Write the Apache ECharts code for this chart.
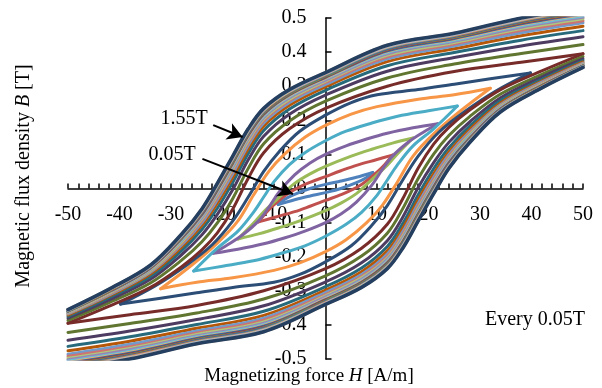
<!DOCTYPE html>
<html><head><meta charset="utf-8">
<script src="https://cdn.jsdelivr.net/npm/echarts@6/dist/echarts.min.js"></script>
<style>html,body{margin:0;padding:0;background:#fff}#c{width:602px;height:388px}</style>
</head><body><div id="c"></div>
<script>
// Excel-style series colours, loop 1 (0.05T) ... loop 31 (1.55T)
const COLORS = ['#4F81BD','#C0504D','#9BBB59','#8064A2','#4BACC6','#F79646',
  '#2C4D75','#772C2A','#5F7530','#4D3B62','#276A7C','#B65708',
  '#729ACA','#CD7371','#AFC97A','#9983B5','#6FBDD1','#F9AB6B',
  '#3A679C','#9F3B38','#7E9D40','#664F83','#358EA6','#E07A1F',
  '#95B3D7','#D99694','#C3D69B','#B2A1C7','#93CDDD','#FAC090','#243F60'];

const X_TICKS = [-50,-40,-30,-20,-10,0,10,20,30,40,50];
const Y_TICKS = [-0.5,-0.4,-0.3,-0.2,-0.1,0,0.1,0.2,0.3,0.4,0.5];

// Descending (upper) branches of small loops, [H, B] from right tip to left tip
const L01 = [[9.2,0.047],[6,0.033],[3,0.022],[0,0.012],[-3,0.0],[-6,-0.017],[-8,-0.032],[-9.2,-0.047]];
const L02 = [[13,0.098],[10,0.085],[6,0.068],[3,0.052],[0,0.035],[-3,0.018],[-5,0.005],[-7,-0.012],[-9,-0.035],[-11,-0.062],[-13,-0.098]];
const L03 = [[17,0.148],[13,0.133],[9,0.115],[5,0.095],[0,0.065],[-3,0.043],[-6,0.015],[-8,-0.012],[-10,-0.04],[-12,-0.068],[-14,-0.102],[-17,-0.148]];
const L04 = [[21.8,0.19],[17,0.178],[12,0.162],[8,0.145],[4,0.125],[0,0.1],[-3,0.075],[-6,0.04],[-9,-0.01],[-11,-0.055],[-13,-0.095],[-16,-0.135],[-19,-0.165],[-21.8,-0.19]];
const L05 = [[25.6,0.242],[20,0.228],[14,0.212],[9,0.192],[4,0.168],[0,0.14],[-4,0.105],[-7,0.07],[-10,0.02],[-12,-0.025],[-14,-0.07],[-17,-0.125],[-21,-0.175],[-25.6,-0.242]];
const L06 = [[32,0.294],[25,0.275],[18,0.262],[10,0.24],[5,0.218],[0,0.185],[-4,0.15],[-8,0.1],[-11,0.05],[-14,-0.02],[-17,-0.095],[-21,-0.16],[-26,-0.225],[-32,-0.294]];
const L07 = [[39.8,0.339],[32,0.322],[25,0.306],[18,0.29],[10,0.275],[5,0.252],[0,0.215],[-5,0.168],[-9,0.108],[-12,0.05],[-15,-0.025],[-18,-0.095],[-22,-0.165],[-27,-0.225],[-33,-0.285],[-39.8,-0.339]];

// Larger loops: descending branch B read at these H values
const H_BIG = [50, 38, 25, 12, 0, -7, -12, -15, -18, -21, -24, -28, -34, -42, -50];
const B08 = [0.395,0.370,0.343,0.300,0.235,0.175,0.105,0.030,-0.060,-0.130,-0.180,-0.230,-0.290,-0.345,-0.395];
const B09 = [0.422,0.396,0.365,0.324,0.256,0.198,0.131,0.059,-0.029,-0.101,-0.156,-0.211,-0.277,-0.335,-0.387];
const B10 = [0.445,0.418,0.384,0.344,0.274,0.218,0.153,0.084,-0.003,-0.076,-0.136,-0.195,-0.266,-0.327,-0.380];
const B11 = [0.463,0.435,0.399,0.360,0.288,0.233,0.170,0.103,0.018,-0.058,-0.120,-0.183,-0.258,-0.320,-0.375];
const B12 = [0.476,0.448,0.410,0.372,0.298,0.244,0.183,0.117,0.033,-0.043,-0.108,-0.173,-0.251,-0.315,-0.371];
const B13 = [0.486,0.457,0.418,0.380,0.305,0.252,0.192,0.127,0.044,-0.033,-0.100,-0.166,-0.246,-0.312,-0.368];
const B14 = [0.492,0.464,0.424,0.386,0.311,0.258,0.199,0.134,0.052,-0.026,-0.094,-0.162,-0.243,-0.309,-0.366];
const B15 = [0.498,0.469,0.428,0.391,0.315,0.262,0.204,0.140,0.058,-0.020,-0.089,-0.158,-0.241,-0.307,-0.365];
const B16 = [0.502,0.473,0.432,0.395,0.318,0.266,0.208,0.145,0.063,-0.015,-0.085,-0.154,-0.238,-0.305,-0.363];
const B17 = [0.506,0.477,0.435,0.399,0.322,0.270,0.212,0.150,0.068,-0.010,-0.081,-0.152,-0.236,-0.304,-0.362];
const B18 = [0.510,0.481,0.438,0.402,0.324,0.273,0.216,0.153,0.072,-0.007,-0.078,-0.149,-0.235,-0.303,-0.361];
const B19 = [0.512,0.483,0.440,0.404,0.326,0.275,0.218,0.156,0.075,-0.004,-0.076,-0.147,-0.233,-0.302,-0.360];
const B20 = [0.515,0.486,0.443,0.407,0.328,0.277,0.221,0.159,0.078,-0.001,-0.073,-0.145,-0.232,-0.301,-0.359];
const B21 = [0.517,0.488,0.444,0.409,0.330,0.279,0.223,0.161,0.080,0.001,-0.071,-0.144,-0.231,-0.300,-0.359];
const B22 = [0.519,0.490,0.446,0.410,0.332,0.281,0.225,0.163,0.083,0.003,-0.070,-0.143,-0.230,-0.299,-0.358];
const B23 = [0.521,0.492,0.448,0.412,0.333,0.283,0.227,0.166,0.085,0.006,-0.068,-0.141,-0.229,-0.298,-0.358];
const B24 = [0.523,0.493,0.449,0.414,0.335,0.284,0.228,0.168,0.087,0.008,-0.066,-0.140,-0.228,-0.298,-0.357];
const B25 = [0.525,0.495,0.451,0.415,0.336,0.285,0.230,0.169,0.089,0.009,-0.065,-0.139,-0.228,-0.297,-0.357];
const B26 = [0.526,0.496,0.452,0.416,0.337,0.287,0.231,0.171,0.090,0.011,-0.064,-0.138,-0.227,-0.297,-0.356];
const B27 = [0.527,0.497,0.453,0.417,0.338,0.287,0.232,0.172,0.092,0.012,-0.063,-0.137,-0.226,-0.296,-0.356];
const B28 = [0.528,0.498,0.453,0.418,0.338,0.288,0.233,0.173,0.093,0.013,-0.062,-0.136,-0.226,-0.296,-0.356];
const B29 = [0.529,0.499,0.454,0.419,0.339,0.289,0.234,0.174,0.094,0.014,-0.061,-0.136,-0.225,-0.295,-0.355];
const B30 = [0.529,0.499,0.455,0.420,0.340,0.290,0.234,0.174,0.094,0.014,-0.060,-0.135,-0.225,-0.295,-0.355];
const B31 = [0.530,0.500,0.455,0.420,0.340,0.290,0.235,0.175,0.095,0.015,-0.060,-0.135,-0.225,-0.295,-0.355];

const BIG = [B08,B09,B10,B11,B12,B13,B14,B15,B16,B17,B18,B19,B20,B21,B22,B23,B24,B25,B26,B27,B28,B29,B30,B31];
const LOOPS = [L01,L02,L03,L04,L05,L06,L07].concat(BIG.map(b => H_BIG.map((h,i) => [h, b[i]])));

const FONT = '"Liberation Serif","Times New Roman",serif';
const series = [];
LOOPS.forEach((upper, k) => {
  const lower = upper.map(p => [-p[0], -p[1]]); // ascending branch (point-symmetric)
  const common = {type:'line', showSymbol:false, symbol:'none', smooth:0.35, silent:true,
    clip:true, lineStyle:{color:COLORS[k], width: k===30 ? 3.6 : 3, cap:'round', join:'round'}};
  series.push(Object.assign({data: upper}, common));
  series.push(Object.assign({data: lower}, common));
});
series.push({type:'line', data:[], silent:true,
  markLine:{silent:true, symbol:['none','arrow'], symbolSize:[13,15], label:{show:false},
    lineStyle:{color:'#000', width:2, type:'solid'},
    data:[[{coord:[-21.8,0.186]},{coord:[-16.1,0.151]}],
          [{coord:[-23.9,0.087]},{coord:[-6.3,-0.016]}]]}});

// grid: left 68, width 515 -> x=0 at 325.5 ; top 18, height 341 -> y=0 at 188.5
const GRID = {left:68, right:19, top:18, bottom:29};
const chart = echarts.init(document.getElementById('c'), null, {renderer:'canvas'});
chart.setOption({
  animation:false,
  backgroundColor:'#fff',
  grid:GRID,
  xAxis:{type:'value', min:X_TICKS[0], max:X_TICKS[X_TICKS.length-1], interval:10,
    position:'bottom', offset:-170.5,
    axisLine:{onZero:false, lineStyle:{color:'#000', width:1.5}},
    axisTick:{inside:true, length:5, lineStyle:{color:'#000', width:1.5}},
    minorTick:{show:true, splitNumber:5, length:5, lineStyle:{color:'#000', width:1.5}},
    splitLine:{show:false},
    axisLabel:{margin:16, color:'#000', fontFamily:FONT, fontSize:20}},
  yAxis:{type:'value', min:Y_TICKS[0], max:Y_TICKS[Y_TICKS.length-1], interval:0.1,
    position:'left', offset:-257.5,
    axisLine:{onZero:false, lineStyle:{color:'#000', width:1.5}},
    axisTick:{inside:true, length:6, lineStyle:{color:'#000', width:1.5}},
    splitLine:{show:false},
    axisLabel:{margin:19, color:'#000', fontFamily:FONT, fontSize:20,
      formatter: v => String(Math.round(v*10)/10)}},
  graphic:[
    {type:'text', x:24, y:176, rotation:Math.PI/2, silent:true,
      style:{text:'{a|Magnetic flux density }{b|B}{a| [T]}', align:'center', verticalAlign:'middle',
        rich:{a:{fontFamily:FONT, fontSize:20, fill:'#000'}, b:{fontFamily:FONT, fontSize:20, fontStyle:'italic', fill:'#000'}}}},
    {type:'text', x:309, y:376, silent:true,
      style:{text:'{a|Magnetizing force }{b|H}{a| [A/m]}', align:'center', verticalAlign:'middle',
        rich:{a:{fontFamily:FONT, fontSize:19, fill:'#000'}, b:{fontFamily:FONT, fontSize:19, fontStyle:'italic', fill:'#000'}}}},
    {type:'text', x:535, y:320, silent:true,
      style:{text:'Every 0.05T', font:'20px '+FONT, fill:'#000', align:'center', verticalAlign:'middle'}},
    {type:'text', x:184, y:119, silent:true,
      style:{text:'1.55T', font:'20px '+FONT, fill:'#000', align:'center', verticalAlign:'middle'}},
    {type:'text', x:172, y:155, silent:true,
      style:{text:'0.05T', font:'20px '+FONT, fill:'#000', align:'center', verticalAlign:'middle'}}
  ],
  series: series
});
</script>
</body></html>
